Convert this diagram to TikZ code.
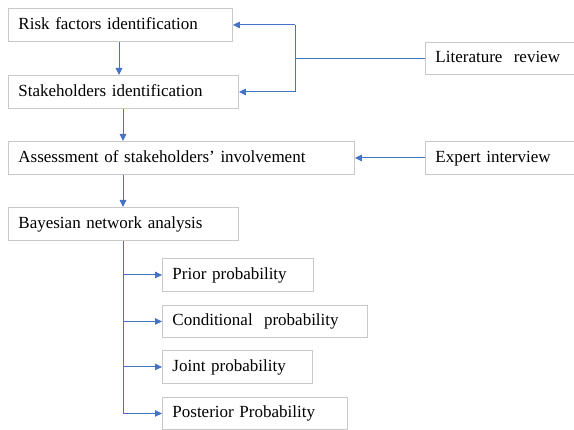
\documentclass[tikz,border=0pt]{standalone}
\usepackage{fontspec}
\setmainfont{Liberation Serif}
\usetikzlibrary{arrows.meta}
\definecolor{linkblue}{RGB}{68,114,196}
\definecolor{boxgray}{RGB}{200,200,200}
\begin{document}
\begin{tikzpicture}[x=1pt,y=-1pt,
 box/.style={draw=boxgray, line width=0.9pt, anchor=north west, inner xsep=10pt, inner ysep=0pt,
   minimum height=33pt, font=\fontsize{17}{19}\selectfont, text height=12pt, text depth=3pt, align=left},
 conn/.style={draw=linkblue, line width=0.9pt},
 arr/.style={conn, -{Triangle[length=7pt,width=6.5pt]}}]
\useasboundingbox (0,0) rectangle (574,430);
\clip (0,0) rectangle (574,430);
\node[box, text width=204pt] (risk) at (8,8) {Risk factors identification};
\node[box, text width=210pt] (stake) at (8,75) {Stakeholders identification};
\node[box, text width=326pt] (assess) at (8,141) {Assessment of stakeholders' involvement};
\node[box, text width=210pt] (bayes) at (8,207) {Bayesian network analysis};
\node[box, text width=136pt, minimum height=32pt] (lit) at (425,42) {Literature\ \ review};
\node[box, text width=136pt] (exp) at (425,141) {Expert interview};
\node[box, text width=131pt] (prior) at (162,258) {Prior probability};
\node[box, text width=185pt, minimum height=32pt] (cond) at (162,305) {Conditional\ \ probability};
\node[box, text width=130pt] (joint) at (162,350) {Joint probability};
\node[box, text width=165pt, minimum height=32pt] (post) at (162,397) {Posterior Probability};
\coordinate (c1) at (119,0);
\coordinate (c2) at (123,0);
\coordinate (j) at (295,0);
\draw[arr] (risk.south -| c1) -- (stake.north -| c1);
\draw[arr] (stake.south -| c2) -- (assess.north -| c2);
\draw[arr] (assess.south -| c2) -- (bayes.north -| c2);
\draw[conn] (lit.west) -- (lit.west -| j);
\draw[conn] (risk.east -| j) -- (stake.east -| j);
\draw[arr] (risk.east -| j) -- (risk.east);
\draw[arr] (stake.east -| j) -- (stake.east);
\draw[arr] (exp.west) -- (assess.east);
\draw[conn] (bayes.south -| c2) -- (post.west -| c2);
\draw[arr] (prior.west -| c2) -- (prior.west);
\draw[arr] (cond.west -| c2) -- (cond.west);
\draw[arr] (joint.west -| c2) -- (joint.west);
\draw[arr] (post.west -| c2) -- (post.west);
\end{tikzpicture}
\end{document}
